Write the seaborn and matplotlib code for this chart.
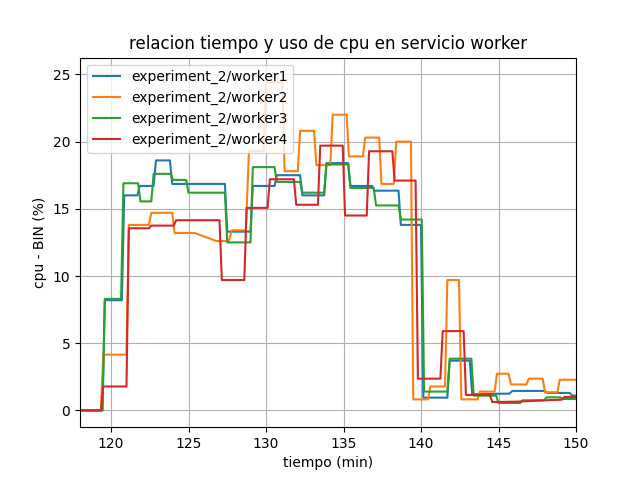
import pandas as pd
import numpy as np
import matplotlib
matplotlib.use("Agg")
import matplotlib.pyplot as plt
import seaborn as sns

# vertices (time in min, cpu in %)
t_worker1 = [117.5, 119.45, 119.6, 120.7, 120.85, 121.7, 121.85, 122.75, 122.9, 123.8, 123.95,
             127.35, 127.5, 129.0, 129.15, 130.55, 130.7, 132.2, 132.35, 133.75, 133.9, 135.3,
             135.45, 136.85, 137.0, 138.55, 138.7, 140.0, 140.15, 141.7, 141.85, 143.15, 143.3,
             145.7, 145.9, 148.0, 148.15, 149.6, 149.75, 150.5]
v_worker1 = [0, 0, 8.2, 8.2, 16.0, 16.0, 16.7, 16.7, 18.6, 18.6, 16.85,
             16.85, 13.3, 13.3, 16.7, 16.7, 17.5, 17.5, 16.0, 16.0, 18.4, 18.4,
             16.7, 16.7, 16.35, 16.35, 13.8, 13.8, 0.95, 0.95, 3.7, 3.7, 1.2,
             1.25, 1.45, 1.45, 1.3, 1.3, 1.1, 1.1]

t_worker2 = [117.5, 119.35, 119.5, 121.0, 121.15, 122.45, 122.6, 123.95, 124.1, 125.4, 126.8,
             127.6, 127.8, 128.7, 128.9, 129.85, 130.0, 131.05, 131.2, 132.05, 132.2, 133.1,
             133.25, 134.15, 134.3, 135.2, 135.35, 136.25, 136.4, 137.3, 137.45, 138.25, 138.4,
             139.35, 139.5, 140.45, 140.6, 141.55, 141.7, 142.45, 142.6, 143.65, 143.8, 144.75,
             144.9, 145.65, 145.8, 146.8, 146.95, 147.85, 148.0, 148.8, 148.95, 150.5]
v_worker2 = [0, 0, 4.15, 4.15, 13.8, 13.8, 14.7, 14.7, 13.2, 13.2, 12.6,
             12.6, 13.4, 13.4, 19.3, 19.3, 24.4, 24.4, 17.8, 17.8, 20.8, 20.8,
             18.25, 18.25, 22.0, 22.0, 18.9, 18.9, 20.3, 20.3, 16.85, 16.85, 20.0,
             20.0, 0.82, 0.82, 1.78, 1.78, 9.7, 9.7, 0.82, 0.82, 1.4, 1.4,
             2.73, 2.73, 1.93, 1.93, 2.36, 2.36, 1.35, 1.35, 2.28, 2.28]

t_worker3 = [117.5, 119.45, 119.6, 120.65, 120.8, 121.75, 121.9, 122.6, 122.75, 123.85, 124.0,
             124.85, 125.0, 127.35, 127.5, 129.0, 129.15, 130.55, 130.7, 132.2, 132.35, 133.75,
             133.9, 135.3, 135.45, 136.95, 137.1, 138.55, 138.7, 140.05, 140.2, 141.7, 141.85,
             143.25, 143.4, 144.85, 145.0, 146.4, 146.55, 147.95, 148.1, 149.0, 149.15, 150.5]
v_worker3 = [0, 0, 8.3, 8.3, 16.9, 16.9, 15.55, 15.55, 17.6, 17.6, 17.15,
             17.15, 16.2, 16.2, 12.5, 12.5, 18.1, 18.1, 17.0, 17.0, 16.2, 16.2,
             18.3, 18.3, 16.55, 16.55, 15.25, 15.25, 14.2, 14.2, 1.4, 1.4, 3.85,
             3.85, 1.1, 1.1, 0.55, 0.55, 0.75, 0.75, 0.97, 0.97, 0.85, 0.85]

t_worker4 = [117.5, 119.35, 119.5, 121.0, 121.15, 122.45, 122.6, 124.05, 124.2, 127.0, 127.15,
             128.6, 128.75, 130.1, 130.25, 131.8, 131.95, 133.35, 133.5, 134.95, 135.1, 136.5,
             136.65, 138.15, 138.3, 139.65, 139.8, 141.25, 141.4, 142.75, 142.9, 144.45, 144.6,
             146.1, 148.0, 149.1, 149.25, 150.5]
v_worker4 = [0, 0, 1.78, 1.78, 13.55, 13.55, 13.75, 13.75, 14.15, 14.15, 9.7,
             9.7, 15.07, 15.07, 17.2, 17.2, 15.3, 15.3, 19.7, 19.7, 14.5, 14.5,
             19.28, 19.28, 17.1, 17.1, 2.36, 2.36, 5.9, 5.9, 1.15, 1.15, 0.62,
             0.65, 0.75, 0.8, 1.0, 1.0]

series = {
    "experiment_2/worker1": (t_worker1, v_worker1),
    "experiment_2/worker2": (t_worker2, v_worker2),
    "experiment_2/worker3": (t_worker3, v_worker3),
    "experiment_2/worker4": (t_worker4, v_worker4),
}

frames = []
for name, (t, v) in series.items():
    frames.append(pd.DataFrame({"tiempo": t, "cpu": v, "worker": name}))
df = pd.concat(frames, ignore_index=True)

fig, ax = plt.subplots(figsize=(6.4, 4.8), dpi=100)
sns.lineplot(data=df, x="tiempo", y="cpu", hue="worker", palette="tab10",
             sort=False, estimator=None, linewidth=1.5, ax=ax)

ax.set_title("relacion tiempo y uso de cpu en servicio worker")
ax.set_xlabel("tiempo (min)")
ax.set_ylabel("cpu - BIN (%)")
ax.set_xlim(118, 150)
ax.set_ylim(-1.25, 26.25)
ax.grid(True)
ax.legend(loc="upper left", title=None)

plt.savefig("out.png", dpi=100)
